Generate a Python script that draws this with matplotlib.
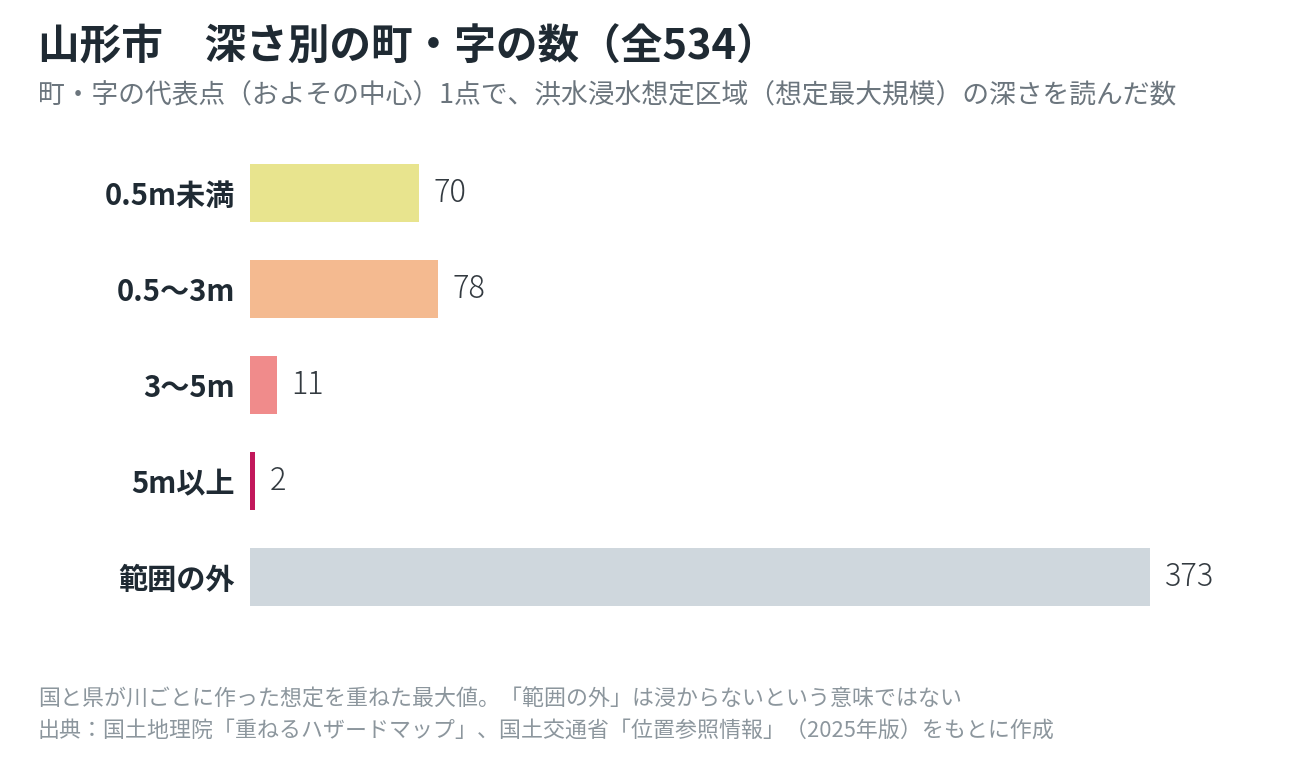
import matplotlib
matplotlib.use("Agg")
import matplotlib.pyplot as plt

plt.rcParams['font.family'] = ['Noto Sans CJK JP', 'DejaVu Sans']

categories = ['0.5m未満', '0.5〜3m', '3〜5m', '5m以上', '範囲の外']
counts = [70, 78, 11, 2, 373]
colors = ['#e8e48e', '#f4ba90', '#f08b8b', '#c2185b', '#cfd7dd']

fig = plt.figure(figsize=(13, 7.6), dpi=100)
ax = fig.add_axes([250 / 1300, 1 - 625 / 760, 1000 / 1300, 480 / 760])

y = list(range(len(categories)))
ax.barh(y, counts, height=0.6, color=colors)
for yi, v in zip(y, counts):
    ax.text(v + 6, yi, str(v), va='center', ha='left', fontsize=22,
            fontweight='light', color='#333a40')

ax.set_xlim(0, 373 * 1000 / 900)
ax.set_ylim(len(categories) - 0.5, -0.5)
ax.set_yticks(y)
ax.set_yticklabels(categories, fontsize=21, fontweight='bold', color='#1f2a33')
ax.tick_params(axis='y', length=0, pad=11)
ax.set_xticks([])
for s in ax.spines.values():
    s.set_visible(False)

fig.text(38 / 1300, 1 - 48 / 760, '山形市　深さ別の町・字の数（全534）', fontsize=30,
         fontweight='bold', color='#1f2a33', va='center', ha='left')
fig.text(38 / 1300, 1 - 96 / 760,
         '町・字の代表点（およその中心）1点で、洪水浸水想定区域（想定最大規模）の深さを読んだ数',
         fontsize=19.3, color='#6b757d', va='center', ha='left')
fig.text(38 / 1300, 1 - 700 / 760,
         '国と県が川ごとに作った想定を重ねた最大値。「範囲の外」は浸からないという意味ではない',
         fontsize=15.8, color='#8c969d', va='center', ha='left')
fig.text(38 / 1300, 1 - 732 / 760,
         '出典：国土地理院「重ねるハザードマップ」、国土交通省「位置参照情報」（2025年版）をもとに作成',
         fontsize=15.8, color='#8c969d', va='center', ha='left')

fig.savefig('out.png', dpi=100)
